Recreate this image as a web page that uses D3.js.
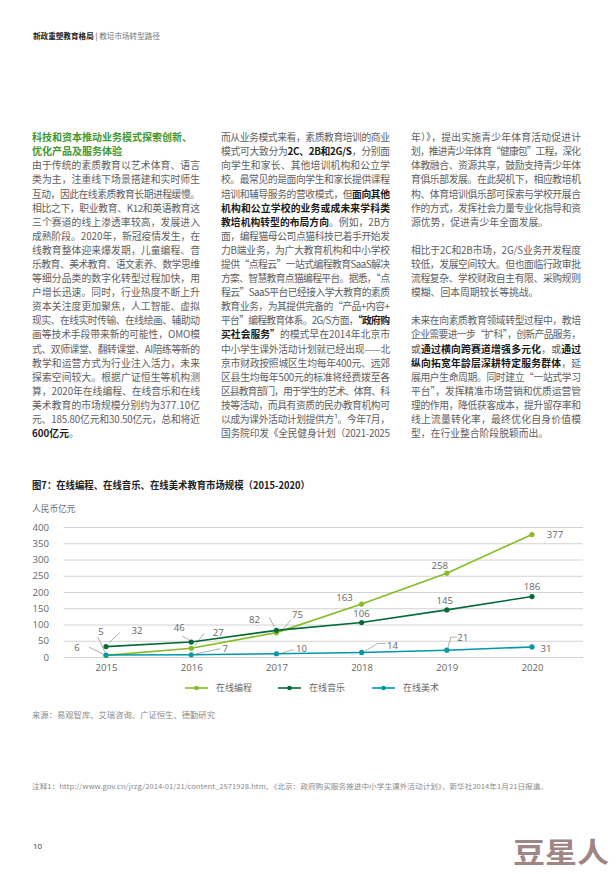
<!DOCTYPE html>
<html><head><meta charset="utf-8">
<script src="https://cdn.jsdelivr.net/npm/d3@7"></script>
<style>
html,body{margin:0;padding:0;background:#fff;}
svg{display:block;}
text{font-family:"Noto Sans CJK SC","Noto Sans",sans-serif;}
.num{font-family:"Open Sans","Noto Sans",sans-serif;}
</style></head>
<body>
<svg id="page" width="616" height="874"></svg>
<script>
// ---------- data ----------
const years = [2015, 2016, 2017, 2018, 2019, 2020];
const programming = [5, 27, 75, 163, 258, 377];
const music = [32, 46, 82, 106, 145, 186];
const art = [6, 7, 10, 14, 21, 31];
const seriesNames = ["在线编程", "在线音乐", "在线美术"];
const yTicks = [0, 50, 100, 150, 200, 250, 300, 350, 400];
const chartTitle = "图7：在线编程、在线音乐、在线美术教育市场规模（2015-2020）";
const unitLabel = "人民币亿元";
const sourceText = "来源：易观智库、艾瑞咨询、广证恒生、德勤研究";
const footnoteText = "注释1：http://www.gov.cn/jrzg/2014-01/21/content_2571928.htm、《北京：政府购买服务推进中小学生课外活动计划》，新华社2014年1月21日报道。";

const colLeft = [
"#科技和资本推动业务模式探索创新、",
"#优化产品及服务体验",
"由于传统的素质教育以艺术体育、语言",
"类为主，注重线下场景搭建和实时师生",
"互动，因此在线素质教育长期进程缓慢。",
"相比之下，职业教育、K12和英语教育这",
"三个赛道的线上渗透率较高，发展进入",
"成熟阶段。2020年，新冠疫情发生，在",
"线教育整体迎来爆发期，儿童编程、音",
"乐教育、美术教育、语文素养、数学思维",
"等细分品类的数字化转型过程加快，用",
"户增长迅速。同时，行业热度不断上升",
"资本关注度更加聚焦，人工智能、虚拟",
"现实、在线实时传输、在线绘画、辅助动",
"画等技术手段带来新的可能性，OMO模",
"式、双师课堂、翻转课堂、AI陪练等新的",
"教学和运营方式为行业注入活力，未来",
"探索空间较大。根据广证恒生等机构测",
"算，2020年在线编程、在线音乐和在线",
"美术教育的市场规模分别约为377.10亿",
"元、185.80亿元和30.50亿元，总和将近",
"~**600亿元**。"
];
const colMid = [
"而从业务模式来看，素质教育培训的商业",
"模式可大致分为**2C、2B和2G/S**，分别面",
"向学生和家长、其他培训机构和公立学",
"校。最常见的是面向学生和家长提供课程",
"培训和辅导服务的营收模式，但**面向其他**",
"**机构和公立学校的业务或成未来学科类**",
"**教培机构转型的布局方向**。例如，2B方",
"面，编程猫母公司点猫科技已着手开始发",
"力B端业务，为广大教育机构和中小学校",
"提供“点程云”一站式编程教育SaaS解决",
"方案、智慧教育点猫编程平台。据悉，“点",
"程云”SaaS平台已经接入学大教育的素质",
"教育业务，为其提供完备的“产品+内容+",
"平台”编程教育体系。2G/S方面，**“政府购**",
"**买社会服务”**的模式早在2014年北京市",
"中小学生课外活动计划就已经出现——北",
"京市财政按照城区生均每年400元、远郊",
"区县生均每年500元的标准将经费拨至各",
"区县教育部门，用于学生的艺术、体育、科",
"技等活动，而具有资质的民办教育机构可",
"以成为课外活动计划提供方¹。今年7月，",
"国务院印发《全民健身计划（2021-2025"
];
const colRight = [
"年）》，提出实施青少年体育活动促进计",
"划，推进青少年体育“健康包”工程，深化",
"体教融合、资源共享，鼓励支持青少年体",
"育俱乐部发展。在此契机下，相应教培机",
"构、体育培训俱乐部可探索与学校开展合",
"作的方式，发挥社会力量专业化指导和资",
"~源优势，促进青少年全面发展。",
"",
"相比于2C和2B市场，2G/S业务开发程度",
"较低，发展空间较大。但也面临行政审批",
"流程复杂、学校财政自主有限、采购规则",
"~模糊、回本周期较长等挑战。",
"",
"未来在向素质教育领域转型过程中，教培",
"企业需要进一步“扩科”，创新产品服务，",
"或**通过横向跨赛道增强多元化**，或**通过**",
"**纵向拓宽年龄层深耕特定服务群体**，延",
"展用户生命周期。同时建立“一站式学习",
"平台”，发挥精准市场营销和优质运营管",
"理的作用，降低获客成本，提升留存率和",
"线上流量转化率，最终优化自身价值模",
"~型，在行业整合阶段脱颖而出。"
];

// label placement (layout only): text offset from point, optional leader polyline
const labelLayout = {
  "在线编程": [
    {dx:-5, dy:-24, leader:[[-8,-18],[-1,-3]]},
    {dx:27, dy:-16, leader:[[13,-15],[4,-3]]},
    {dx:21, dy:-18, leader:[[15,-13],[6,-3]]},
    {dx:-17, dy:-6},
    {dx:-7, dy:-8},
    {dx:23, dy:0}
  ],
  "在线音乐": [
    {dx:31, dy:-16, leader:[[14,-14],[3,-4]]},
    {dx:-12, dy:-14, leader:[[-9,-6],[-2,-2]]},
    {dx:-22, dy:-11, leader:[[-7,-13],[-2,-3]]},
    {dx:0, dy:-9},
    {dx:-2, dy:-9},
    {dx:0, dy:-10}
  ],
  "在线美术": [
    {dx:-29, dy:-7, leader:[[-17,-8],[-3,-1]]},
    {dx:34, dy:-6, leader:[[29,-6],[5,-1]]},
    {dx:25, dy:-5, leader:[[17,-4],[6,-1]]},
    {dx:31, dy:-7, leader:[[3,-1],[16,-9],[24,-9]]},
    {dx:16, dy:-13, leader:[[1,-2],[4,-13],[10,-13]]},
    {dx:14, dy:2}
  ]
};

const seriesColors = ["#86bc25", "#046a38", "#0097a9"];

// ---------- page ----------
const svg = d3.select("#page");

// header
const hdr = svg.append("text").attr("x", 33).attr("y", 38.6).attr("font-size", 7.6);
hdr.append("tspan").attr("font-weight", "bold").attr("fill", "#222").text("新政重塑教育格局");
hdr.append("tspan").attr("fill", "#444").text(" | ");
hdr.append("tspan").attr("fill", "#777").text("教培市场转型路径");

// text columns
const lineStep = 14.09, firstCenter = 137.6;
function drawColumn(lines, x0, width) {
  lines.forEach((raw, i) => {
    if (!raw) return;
    let s = raw, justify = true, head = false;
    if (s[0] === "#") { head = true; justify = false; s = s.slice(1); }
    if (s[0] === "~") { justify = false; s = s.slice(1); }
    const t = svg.append("text")
      .attr("x", x0)
      .attr("y", firstCenter + i * lineStep + 3.6)
      .attr("font-size", head ? 10 : 9.8);
    if (head) t.attr("font-weight", "bold").attr("fill", "#3f9a32");
    const parts = s.split("**");
    let n = 0;
    parts.forEach((p, k) => {
      if (!p) return;
      n += [...p].length;
      const ts = t.append("tspan").text(p);
      if (!head) {
        if (k % 2 === 1) ts.attr("font-weight", "bold").attr("fill", "#1a1a1a");
        else ts.attr("fill", "#5e5e5e");
      }
    });
    if (justify) {
      const L = t.node().getComputedTextLength();
      const ls = (width - L) / (n - 1);
      t.attr("letter-spacing", ls);
    }
  });
}
drawColumn(colLeft, 32, 168);
drawColumn(colMid, 221, 169);
drawColumn(colRight, 411, 170);

// ---------- chart ----------
svg.append("text").attr("x", 32).attr("y", 488.8)
  .attr("font-size", 10).attr("font-weight", "bold").attr("fill", "#222")
  .attr("textLength", 278).attr("lengthAdjust", "spacingAndGlyphs")
  .text(chartTitle);

svg.append("text").attr("x", 32).attr("y", 512.2)
  .attr("font-size", 8.7).attr("fill", "#6a6a6a").text(unitLabel);

const gridLeft = 64, gridRight = 583;
const x = d3.scalePoint().domain(years).range([106, 532]);
const y = d3.scaleLinear().domain([0, 400]).range([657, 527]);

const yAxis = svg.append("g").attr("transform", `translate(${gridLeft},0)`)
  .call(d3.axisLeft(y).tickValues(yTicks).tickSize(-(gridRight - gridLeft)).tickPadding(15));
yAxis.select(".domain").remove();
yAxis.selectAll(".tick line").attr("stroke", "#d2d2d2").attr("stroke-width", 1);
yAxis.selectAll(".tick text").attr("class", "num").attr("font-size", 9.6).attr("fill", "#666")
  .style("font-family", "'Open Sans','Noto Sans',sans-serif");

const xAxis = svg.append("g").attr("transform", `translate(0,${y(0)})`)
  .call(d3.axisBottom(x).tickSize(0).tickPadding(7.5));
xAxis.select(".domain").remove();
xAxis.selectAll(".tick text").attr("font-size", 9.6).attr("fill", "#666")
  .style("font-family", "'Open Sans','Noto Sans',sans-serif");

const series = [programming, music, art];
const line = d3.line().x((d, i) => x(years[i])).y(d => y(d));

// leaders first
series.forEach((vals, si) => {
  const lay = labelLayout[seriesNames[si]];
  vals.forEach((v, i) => {
    const L = lay[i];
    if (!L.leader) return;
    const px = x(years[i]), py = y(v);
    svg.append("polyline")
      .attr("points", L.leader.map(p => [px + p[0], py + p[1]].join(",")).join(" "))
      .attr("fill", "none").attr("stroke", "#9a9a9a").attr("stroke-width", 0.8);
  });
});

series.forEach((vals, si) => {
  svg.append("path").datum(vals).attr("d", line)
    .attr("fill", "none").attr("stroke", seriesColors[si]).attr("stroke-width", 1.6);
});
series.forEach((vals, si) => {
  svg.selectAll(null).data(vals).enter().append("circle")
    .attr("cx", (d, i) => x(years[i])).attr("cy", d => y(d)).attr("r", 2.6)
    .attr("fill", seriesColors[si]);
});
series.forEach((vals, si) => {
  const lay = labelLayout[seriesNames[si]];
  svg.selectAll(null).data(vals).enter().append("text")
    .attr("x", (d, i) => x(years[i]) + lay[i].dx)
    .attr("y", (d, i) => y(d) + lay[i].dy)
    .attr("dy", "0.35em")
    .attr("text-anchor", "middle")
    .attr("font-size", 9.6).attr("fill", "#666")
    .style("font-family", "'Open Sans','Noto Sans',sans-serif")
    .text(d => d);
});

// legend
const legendX = [185, 278, 372];
const legendY = 688;
seriesNames.forEach((name, i) => {
  const g = svg.append("g");
  g.append("line").attr("x1", legendX[i]).attr("x2", legendX[i] + 23)
    .attr("y1", legendY).attr("y2", legendY)
    .attr("stroke", seriesColors[i]).attr("stroke-width", 1.6);
  g.append("circle").attr("cx", legendX[i] + 11.5).attr("cy", legendY).attr("r", 2.3)
    .attr("fill", seriesColors[i]);
  g.append("text").attr("x", legendX[i] + 31).attr("y", legendY + 3.2)
    .attr("font-size", 9).attr("fill", "#666").text(name);
});

// source
svg.append("text").attr("x", 32).attr("y", 718)
  .attr("font-size", 8).attr("fill", "#8a8a8a")
  .attr("textLength", 183).attr("lengthAdjust", "spacingAndGlyphs")
  .text(sourceText);

// footnote
svg.append("text").attr("x", 32).attr("y", 789)
  .attr("font-size", 6.8).attr("fill", "#8a8a8a")
  .attr("textLength", 516).attr("lengthAdjust", "spacingAndGlyphs")
  .text(footnoteText);

// page number
svg.append("text").attr("x", 33).attr("y", 849)
  .attr("font-size", 8).attr("fill", "#333")
  .style("font-family", "'Open Sans','Noto Sans',sans-serif").text("10");

// watermark
svg.append("text").attr("x", 609).attr("y", 863)
  .attr("text-anchor", "end").attr("font-size", 28).attr("font-weight", "bold")
  .attr("fill", "#a08585").attr("textLength", 96).attr("lengthAdjust", "spacingAndGlyphs")
  .text("豆星人");
</script>
</body></html>
